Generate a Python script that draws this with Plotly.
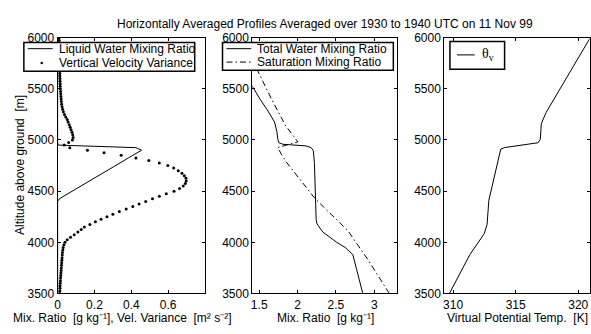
import plotly.graph_objects as go

# ---------------- data ----------------
# Panel 1: model levels (m) with liquid water mixing ratio (g/kg) and vertical velocity variance (m2/s2)
alt_levels = [3500, 3525, 3550, 3575, 3600, 3625, 3650, 3675, 3700, 3725, 3750, 3775, 3800, 3825,
              3850, 3875, 3900, 3925, 3950, 3975, 4000, 4025, 4050, 4075, 4100, 4125, 4150, 4175,
              4200, 4225, 4250, 4275, 4300, 4325, 4350, 4375, 4400, 4425, 4450, 4475, 4500, 4525,
              4550, 4575, 4600, 4625, 4650, 4675, 4700, 4725, 4750, 4775, 4800, 4825, 4850, 4875,
              4900, 4925, 4950, 4975, 5000, 5025, 5050, 5075, 5100, 5125, 5150, 5175, 5200, 5225,
              5250, 5275, 5300, 5325, 5350, 5375, 5400, 5425, 5450, 5475, 5500, 5525, 5550, 5575,
              5600, 5625, 5650, 5675, 5700, 5725, 5750, 5775, 5800, 5825, 5850, 5875, 5900, 5925,
              5950, 5975, 6000]

liquid_water = [0, 0, 0, 0, 0, 0, 0, 0, 0, 0, 0, 0, 0, 0,
                0, 0, 0, 0, 0, 0, 0, 0, 0, 0, 0, 0, 0, 0,
                0, 0, 0, 0, 0, 0, 0, 0, 0, 0.009, 0.033, 0.056, 0.080, 0.103,
                0.127, 0.150, 0.174, 0.197, 0.220, 0.244, 0.267, 0.291, 0.314, 0.338, 0.361, 0.385, 0.408, 0.432,
                0.456, 0.425, 0.004, 0, 0, 0, 0, 0, 0, 0, 0, 0, 0, 0,
                0, 0, 0, 0, 0, 0, 0, 0, 0, 0, 0, 0, 0, 0,
                0, 0, 0, 0, 0, 0, 0, 0, 0, 0, 0, 0, 0, 0,
                0, 0, 0]

vel_variance = [0.012, 0.012, 0.013, 0.013, 0.014, 0.015, 0.016, 0.017, 0.018, 0.019, 0.020, 0.021, 0.022, 0.023,
                0.024, 0.025, 0.026, 0.028, 0.030, 0.034, 0.040, 0.052, 0.070, 0.090, 0.110, 0.128, 0.145, 0.175,
                0.205, 0.236, 0.268, 0.300, 0.335, 0.372, 0.408, 0.442, 0.478, 0.515, 0.552, 0.590, 0.632, 0.662,
                0.682, 0.693, 0.698, 0.697, 0.688, 0.675, 0.655, 0.630, 0.598, 0.552, 0.495, 0.425, 0.345, 0.252,
                0.162, 0.066, 0.036, 0.060, 0.080, 0.084, 0.082, 0.078, 0.073, 0.068, 0.063, 0.057, 0.052, 0.044,
                0.037, 0.031, 0.027, 0.024, 0.022, 0.020, 0.019, 0.018, 0.017, 0.016, 0.015, 0.014, 0.014, 0.013,
                0.013, 0.012, 0.012, 0.012, 0.011, 0.011, 0.010, 0.010, 0.010, 0.009, 0.009, 0.009, 0.009, 0.008,
                0.008, 0.008, 0.008]

# Panel 2: total water and saturation mixing ratio (g/kg)
tw_alt = [3500, 3700, 3880, 3950, 4000, 4050, 4100, 4150, 4180, 4220, 4400, 4600, 4770, 4895,
          4926, 4942, 4958, 4973, 5005, 5082, 5176, 5300, 5400, 5525, 5600]
tw_val = [2.85, 2.78, 2.72, 2.62, 2.51, 2.42, 2.33, 2.28, 2.255, 2.242, 2.235, 2.228, 2.22, 2.206,
          2.176, 2.11, 1.81, 1.756, 1.743, 1.73, 1.70, 1.60, 1.51, 1.41, 1.35]

sat_alt = [3500, 3834, 4000, 4115, 4427, 4786, 4864, 4926, 4982, 5145, 5400, 5644, 6000]
sat_val = [3.195, 2.914, 2.76, 2.654, 2.228, 1.851, 1.786, 1.743, 2.003, 1.84, 1.66, 1.50, 1.27]

# Panel 3: virtual potential temperature (K)
th_alt = [3500, 3881, 4084, 4177, 4411, 4598, 4911, 4926, 4973, 5005, 5160, 5270, 6000]
th_val = [309.71, 311.35, 312.49, 312.72, 312.86, 313.20, 313.81, 314.13, 316.78, 316.97, 317.05, 317.44, 320.96]

alt_ticks = [3500, 4000, 4500, 5000, 5500, 6000]
x1_ticks = [0, 0.2, 0.4, 0.6]
x1_ticktext = ["0", "0.2", "0.4", "0.6"]
x2_ticks = [1.5, 2, 2.5, 3]
x2_ticktext = ["1.5", "2", "2.5", "3"]
x3_ticks = [310, 315, 320]
x3_ticktext = ["310", "315", "320"]

# ---------------- layout helpers ----------------
W, H = 591, 334
FONT = "Liberation Sans, Arial, Helvetica, sans-serif"


def px(x):
    return x / W


def py(y):
    return 1 - y / H


fig = go.Figure()

fig.add_trace(go.Scatter(x=liquid_water, y=alt_levels, mode="lines", name="Liquid Water Mixing Ratio",
                         line=dict(color="black", width=1), xaxis="x", yaxis="y"))
fig.add_trace(go.Scatter(x=vel_variance, y=alt_levels, mode="markers", name="Vertical Velocity Variance",
                         marker=dict(color="black", size=3, line=dict(width=0)), xaxis="x", yaxis="y"))
fig.add_trace(go.Scatter(x=tw_val, y=tw_alt, mode="lines", name="Total Water Mixing Ratio",
                         line=dict(color="black", width=1), xaxis="x2", yaxis="y2"))
fig.add_trace(go.Scatter(x=sat_val, y=sat_alt, mode="lines", name="Saturation Mixing Ratio",
                         line=dict(color="black", width=1, dash="6px,3px,1.5px,3px"), xaxis="x2", yaxis="y2"))
fig.add_trace(go.Scatter(x=th_val, y=th_alt, mode="lines", name="θv",
                         line=dict(color="black", width=1), xaxis="x3", yaxis="y3"))

axis_common = dict(showline=True, linecolor="black", linewidth=1, mirror="ticks",
                   ticks="inside", ticklen=3, tickwidth=1, tickcolor="black",
                   showgrid=False, zeroline=False,
                   tickfont=dict(family=FONT, size=12, color="black"))

ydom = [1 - 299 / H, 1 - 32 / H]

fig.update_layout(
    width=W, height=H,
    margin=dict(l=0, r=0, t=0, b=0),
    paper_bgcolor="white", plot_bgcolor="white",
    showlegend=False,
    xaxis=dict(domain=[55 / W, 203 / W], range=[0, 0.798], tickvals=x1_ticks, ticktext=x1_ticktext,
               anchor="y", **axis_common),
    yaxis=dict(domain=ydom, range=[3500, 6000], tickvals=alt_ticks, anchor="x", **axis_common),
    xaxis2=dict(domain=[251 / W, 397 / W], range=[1.41, 3.30], tickvals=x2_ticks, ticktext=x2_ticktext,
                anchor="y2", **axis_common),
    yaxis2=dict(domain=ydom, range=[3500, 6000], tickvals=alt_ticks, anchor="x2", **axis_common),
    xaxis3=dict(domain=[444.3 / W, 590.5 / W], range=[309.3, 320.9], tickvals=x3_ticks, ticktext=x3_ticktext,
                anchor="y3", **axis_common),
    yaxis3=dict(domain=ydom, range=[3500, 6000], tickvals=alt_ticks, anchor="x3", **axis_common),
)

shapes = []
annotations = []


def text(x, y, s, xanchor="left", size=12, family=FONT, angle=0, yanchor="middle"):
    annotations.append(dict(x=px(x), y=py(y), xref="paper", yref="paper", text=s, showarrow=False,
                            xanchor=xanchor, yanchor=yanchor, textangle=angle,
                            font=dict(family=family, size=size, color="black")))


def box(x0, y0, x1, y1):
    shapes.append(dict(type="rect", xref="paper", yref="paper", x0=px(x0), x1=px(x1), y0=py(y1), y1=py(y0),
                       fillcolor="white", line=dict(color="black", width=1.5), layer="above"))


def sample(x0, x1, y, dash="solid"):
    shapes.append(dict(type="line", xref="paper", yref="paper", x0=px(x0), x1=px(x1), y0=py(y), y1=py(y),
                       line=dict(color="black", width=1, dash=dash), layer="above"))


# title and axis labels
text(324.5, 17.5, "Horizontally Averaged Profiles Averaged over 1930 to 1940 UTC on 11 Nov 99", xanchor="center")
text(17, 165, "Altitude above ground  [m]", xanchor="center", angle=-90)
text(120.5, 334, "Mix. Ratio  [g kg⁻¹], Vel. Variance  [m² s⁻²]",
     xanchor="center", yanchor="bottom")
text(325, 334, "Mix. Ratio  [g kg⁻¹]", xanchor="center", yanchor="bottom")
text(518, 334, "Virtual Potential Temp.  [K]", xanchor="center", yanchor="bottom")

# legend panel 1
box(21, 37, 193, 67)
sample(25, 50, 43.5)
shapes.append(dict(type="circle", xref="paper", yref="paper", x0=px(37.7), x1=px(40.3), y0=py(59.8), y1=py(57.2),
                   fillcolor="black", line=dict(color="black", width=0), layer="above"))
text(54, 43.5, "Liquid Water Mixing Ratio")
text(54, 58.5, "Vertical Velocity Variance")

# legend panel 2
box(221, 37, 393, 66)
sample(225, 250, 43.5)
sample(225, 250, 57.5, dash="6px,3px,1.5px,3px")
text(254, 43.5, "Total Water Mixing Ratio")
text(254, 57.5, "Saturation Mixing Ratio")

# legend panel 3
box(450, 36, 505, 65)
sample(457, 475, 50)
text(480, 50, "θ<sub>v</sub>", size=14, family="Liberation Serif, Times New Roman, serif")

fig.update_layout(shapes=shapes, annotations=annotations)

fig.write_html("out.html")
